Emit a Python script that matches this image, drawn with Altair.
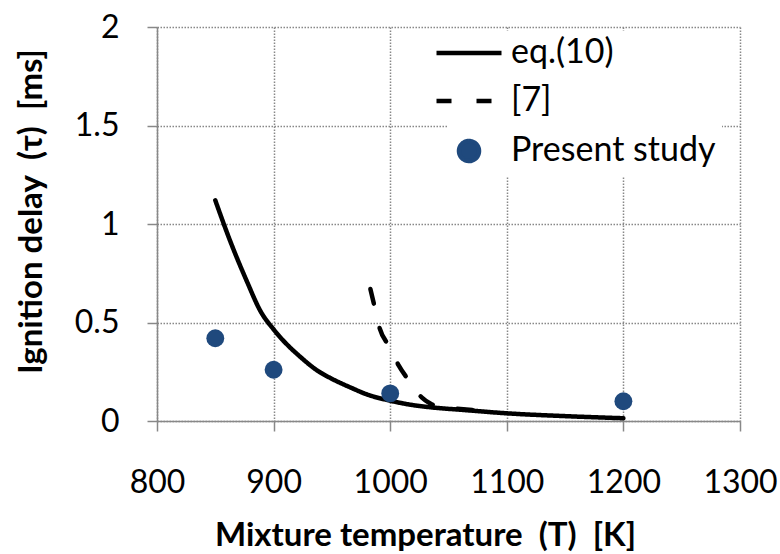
import altair as alt
import pandas as pd

# ---- data ----
eq10_T = [850, 863, 877, 889, 900, 908, 923, 937, 951, 966, 980, 1000, 1017, 1034, 1063, 1100, 1149, 1200]
eq10_tau = [1.12, 0.91, 0.71, 0.555, 0.465, 0.41, 0.325, 0.258, 0.211, 0.17, 0.135, 0.103, 0.083, 0.07, 0.056, 0.039, 0.025, 0.014]

ref7_T = [983, 987, 991, 999, 1007, 1016, 1027, 1034, 1040, 1057, 1074, 1085]
ref7_tau = [0.67, 0.57, 0.47, 0.38, 0.285, 0.205, 0.12, 0.09, 0.074, 0.063, 0.054, 0.049]

study_T = [850, 900, 1000, 1200]
study_tau = [0.42, 0.26, 0.14, 0.10]

series_names = ["eq.(10)", "[7]", "Present study"]
x_ticks = [800, 900, 1000, 1100, 1200, 1300]
y_ticks = [0, 0.5, 1, 1.5, 2]

lines_df = pd.DataFrame(
    {"T": eq10_T + ref7_T,
     "tau": eq10_tau + ref7_tau,
     "series": [series_names[0]] * len(eq10_T) + [series_names[1]] * len(ref7_T)}
)
pts_df = pd.DataFrame({"T": study_T, "tau": study_tau, "series": [series_names[2]] * len(study_T)})

FONT = "Lato"
BLUE = "#1F497D"
GRID = "#888888"
SP = "\u00a0"

xscale = alt.Scale(domain=[800, 1300], nice=False, zero=False)
yscale = alt.Scale(domain=[0, 2], nice=False)

color_scale = alt.Scale(domain=series_names, range=["#000000", "#000000", BLUE])

LINE_PATH = "M-2.6,0H2.6"
CIRCLE_PATH = "M-0.8,0A0.8,0.8,0,1,0,0.8,0A0.8,0.8,0,1,0,-0.8,0Z"
IS_PT = "datum.value === 'Present study'"

legend = alt.Legend(
    title=None,
    orient="none",
    legendX=290,
    legendY=4,
    padding=5,
    fillColor="white",
    strokeColor="white",
    symbolType={"expr": f"{IS_PT} ? '{CIRCLE_PATH}' : '{LINE_PATH}'"},
    symbolFillColor={"expr": f"{IS_PT} ? '{BLUE}' : 'transparent'"},
    symbolStrokeColor={"expr": f"{IS_PT} ? 'transparent' : 'black'"},
    symbolDash={"expr": "datum.value === '[7]' ? [15, 25] : [1, 0]"},
    symbolSize=625,
    symbolStrokeWidth=4.5,
    symbolOpacity=1,
    labelFont=FONT,
    labelFontSize=34,
    labelColor="black",
    labelOffset=25,
    rowPadding=14,
    labelLimit=400,
)

x_enc = alt.X(
    "T:Q", scale=xscale,
    axis=alt.Axis(
        values=x_ticks, format="d",
        title=f"Mixture temperature{SP}{SP}(T){SP}{SP}[K]",
        titleX=268, titleY=124, titleBaseline="alphabetic", titleAlign="center",
    ),
)
y_enc = alt.Y(
    "tau:Q", scale=yscale,
    axis=alt.Axis(
        values=y_ticks, format="~g",
        title=f"Ignition delay{SP}{SP}(τ){SP}{SP}[ms]",
        titleX=-126, titleY=184, titleAngle=-90, titleAlign="center", titleBaseline="middle",
    ),
)

lines = alt.Chart(lines_df).mark_line(strokeWidth=4.5, strokeCap="round", interpolate="monotone").encode(
    x=x_enc,
    y=y_enc,
    color=alt.Color("series:N", scale=color_scale, legend=legend),
    strokeDash=alt.StrokeDash(
        "series:N",
        scale=alt.Scale(domain=series_names[:2], range=[[1, 0], [15, 25]]),
        legend=None,
    ),
)

points = alt.Chart(pts_df).mark_circle(size=320, opacity=1).encode(
    x=alt.X("T:Q", scale=xscale),
    y=alt.Y("tau:Q", scale=yscale),
    color=alt.Color("series:N", scale=color_scale, legend=legend),
)

chart = alt.layer(lines, points).properties(
    width=583,
    height=394,
    autosize=alt.AutoSizeParams(type="none"),
    padding={"left": 157, "top": 27, "right": 40, "bottom": 133},
).configure_view(
    stroke=None
).configure_axis(
    domainColor=GRID,
    domainWidth=1.5,
    tickColor=GRID,
    tickWidth=1.5,
    tickSize=10,
    gridColor=GRID,
    gridOpacity=1,
    gridDash=[1.5, 1.5],
    gridWidth=1.5,
    labelFont=FONT,
    labelFontSize=32,
    labelColor="black",
    labelFlush=False,
    labelOverlap=False,
    titleFont=FONT,
    titleFontSize=33,
    titleFontWeight="bold",
    titleColor="black",
).configure_axisX(
    labelPadding=36,
).configure_axisY(
    labelPadding=28,
)

chart.save("out.html", embed_options={"renderer": "svg", "actions": False})
